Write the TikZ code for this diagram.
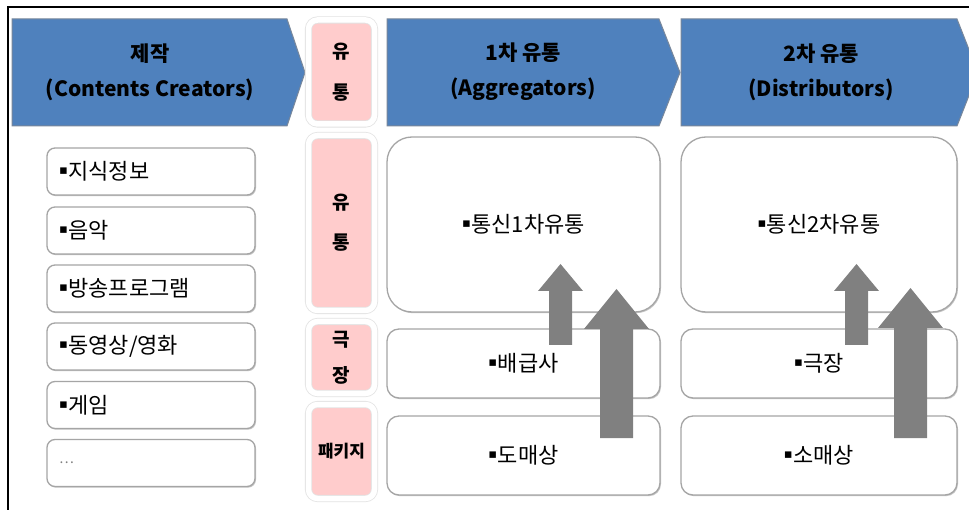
\documentclass[tikz,border=0pt]{standalone}
\usepackage{fontspec}
\setmainfont{Noto Sans CJK KR}
\newfontfamily\djv{DejaVu Sans}
\usetikzlibrary{calc,shadows}
\definecolor{hdrblue}{RGB}{79,129,189}
\definecolor{hdrline}{RGB}{120,135,155}
\definecolor{pinkc}{RGB}{255,204,204}
\definecolor{arrgray}{RGB}{128,128,128}
\definecolor{boxline}{RGB}{165,165,165}
\newcommand\bul{\raisebox{5pt}{\djv\fontsize{13}{13}\selectfont ▪}\kern0.5pt}
\newcommand\blockarrow[5]{%
  \fill[arrowstyle] ($(#1)+(-#3,0)$) -- ($(#2)+(-#3,#5)$) -- ($(#2)+(-#4,#5)$) -- (#2)
    -- ($(#2)+(#4,#5)$) -- ($(#2)+(#3,#5)$) -- ($(#1)+(#3,0)$) -- cycle;}
\tikzset{
  hdr/.style={fill=hdrblue, draw=hdrline, line width=1pt},
  hdrtext/.style={align=center, inner sep=0pt, font=\bfseries\fontsize{21}{35}\selectfont},
  pinkbox/.style={fill=pinkc, draw=gray!22, double=white, double distance=5.5pt,
    line width=0.8pt, rounded corners=9pt, minimum width=66pt, inner sep=0pt,
    align=center, font=\bfseries\fontsize{19}{40}\selectfont},
  itembox/.style={draw=boxline, line width=1.3pt, fill=white, rounded corners=8pt,
    minimum height=47pt, text width=184pt, inner xsep=12pt, inner ysep=0pt, align=left,
    font=\fontsize{22}{26}\selectfont,
    drop shadow={shadow xshift=1pt, shadow yshift=-1.2pt, fill=gray!45, opacity=1}},
  colbox/.style={draw=boxline, line width=1.3pt, fill=white, inner sep=0pt, align=center,
    font=\fontsize{22}{26}\selectfont,
    drop shadow={shadow xshift=1pt, shadow yshift=-1.2pt, fill=gray!45, opacity=1}},
  arrowstyle/.style={fill=arrgray},
  framestyle/.style={line width=2.6pt, black}
}
\begin{document}
\begin{tikzpicture}[x=1pt,y=-1pt]
\useasboundingbox (0,0) rectangle (969,510);
\clip (0,0) rectangle (969,510);
\fill[white] (0,0) rectangle (969,510);
% frame
\draw[framestyle] (8,511) -- (8,7) -- (970,7);
% headers
\draw[hdr] (12,19) -- (287,19) -- (305,72.5) -- (287,126) -- (12,126) -- cycle;
\draw[hdr] (387,19) -- (659,19) -- (680,72.5) -- (659,126) -- (387,126) -- cycle;
\draw[hdr] (681,19) -- (957,19) -- (978,72.5) -- (957,126) -- (681,126) -- cycle;
\node[hdrtext] (h1) at (150,72) {제작\\(Contents Creators)};
\node[hdrtext] (h2) at (523,72) {1차 유통\\(Aggregators)};
\node[hdrtext] (h3) at (821,72) {2차 유통\\(Distributors)};
% pink column
\node[pinkbox, minimum height=104pt, font=\bfseries\fontsize{19}{41}\selectfont] (p0) at (341.5,72) {유\\통};
\node[pinkbox, minimum height=175pt] (p1) at (341.5,223) {유\\통};
\node[pinkbox, minimum height=72pt, font=\bfseries\fontsize{19}{36}\selectfont] (p2) at (341.5,357.5) {극\\장};
\node[pinkbox, minimum height=94pt, font=\bfseries\fontsize{17}{20}\selectfont] (p3) at (341.5,451.5) {패키지};
% left items
\node[itembox] (i1) at (151,171.5) {\bul 지식정보};
\node[itembox] (i2) at (151,230.5) {\bul 음악};
\node[itembox] (i3) at (151,288.5) {\bul 방송프로그램};
\node[itembox] (i4) at (151,346.5) {\bul 동영상/영화};
\node[itembox] (i5) at (151,405) {\bul 게임};
\node[itembox, text=gray, font=\fontsize{14}{16}\selectfont] (i6) at (151,463) {…};
% column 2
\node[colbox, rounded corners=25pt, minimum width=273pt, minimum height=175pt] (c2a) at (523.5,224.5) {\bul 통신1차유통};
\node[colbox, rounded corners=12pt, minimum width=273pt, minimum height=69pt] (c2b) at (523.5,363.5) {\bul 배급사};
\node[colbox, rounded corners=12pt, minimum width=273pt, minimum height=79pt] (c2c) at (523.5,455.5) {\bul 도매상};
% column 3
\node[colbox, rounded corners=25pt, minimum width=276pt, minimum height=175pt] (c3a) at (819,224.5) {\bul 통신2차유통};
\node[colbox, rounded corners=12pt, minimum width=276pt, minimum height=69pt] (c3b) at (819,363.5) {\bul 극장};
\node[colbox, rounded corners=12pt, minimum width=276pt, minimum height=79pt] (c3c) at (819,455.5) {\bul 소매상};
% arrows
\coordinate (a1s) at (560.5,345);
\coordinate (a1e) at (560.5,264);
\coordinate (a2s) at (616.5,438);
\coordinate (a2e) at (616.5,289);
\coordinate (a3s) at (856.5,345);
\coordinate (a3e) at (856.5,264);
\coordinate (a4s) at (910.5,438);
\coordinate (a4e) at (910.5,288);
\blockarrow{a1s}{a1e}{11.5}{22.5}{27}
\blockarrow{a2s}{a2e}{16.5}{32.5}{40}
\blockarrow{a3s}{a3e}{11.5}{22.5}{27}
\blockarrow{a4s}{a4e}{16.5}{32.5}{40}
\end{tikzpicture}
\end{document}
